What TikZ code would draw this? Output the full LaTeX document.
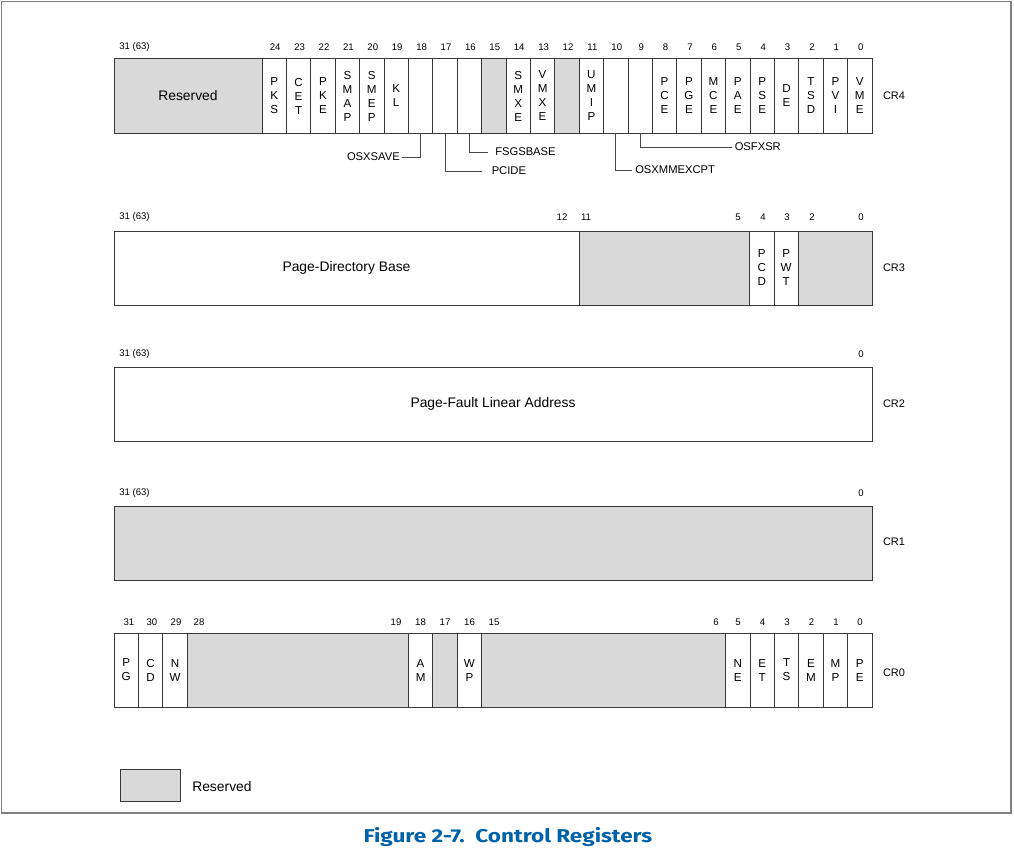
\documentclass[tikz,border=0pt]{standalone}
\usepackage{fontspec}
\setmainfont{Liberation Sans}
\newfontfamily\capfont{Fira Sans}
\definecolor{resgray}{RGB}{217,217,217}
\definecolor{framegray}{RGB}{128,128,128}
\definecolor{capblue}{RGB}{0,98,168}
\begin{document}
\begin{tikzpicture}[x=0.75pt,y=-0.75pt,
  cell/.style={draw=black!78, line width=0.75pt},
  rsv/.style={cell, fill=resgray},
  stack/.style={font=\fontsize{8.7}{10.5}\selectfont, align=center, inner sep=0pt},
  bitnum/.style={font=\fontsize{7.2}{8}\selectfont, inner sep=0pt},
  biglabel/.style={font=\fontsize{10.4}{12}\selectfont, inner sep=0pt},
  crlabel/.style={font=\fontsize{8.2}{10}\selectfont, inner sep=0pt},
  callout/.style={draw=black!72, line width=0.6pt},
  pinlabel/.style={font=\fontsize{8.4}{10}\selectfont, inner sep=0pt}
]
\useasboundingbox (0,0) rectangle (1014,850);
% frame
\draw[framegray, line width=1.1pt] (1.5,1.5) rectangle (1011,813);

% ===== CR4 =====
\draw[rsv] (114,58) rectangle (262,133);
\node[biglabel] (cr4res) at (188,96) {Reserved};
\node[bitnum, anchor=west] (cr4n31) at (119,47.5) {31 (63)};
\foreach \b/\txt/\fc in {24/{P\\K\\S}/white, 23/{C\\E\\T}/white, 22/{P\\K\\E}/white,
  21/{S\\M\\A\\P}/white, 20/{S\\M\\E\\P}/white, 19/{K\\L}/white, 18/{}/white,
  17/{}/white, 16/{}/white, 15/{}/resgray, 14/{S\\M\\X\\E}/white, 13/{V\\M\\X\\E}/white,
  12/{}/resgray, 11/{U\\M\\I\\P}/white, 10/{}/white, 9/{}/white, 8/{P\\C\\E}/white,
  7/{P\\G\\E}/white, 6/{M\\C\\E}/white, 5/{P\\A\\E}/white, 4/{P\\S\\E}/white,
  3/{D\\E}/white, 2/{T\\S\\D}/white, 1/{P\\V\\I}/white, 0/{V\\M\\E}/white}{
  \draw[cell, fill=\fc] ({872-24.4*(\b+1)},58) rectangle ({872-24.4*\b},133);
  \node[stack] (cr4b\b) at ({872-24.4*(\b+0.5)},96) {\txt};
  \node[bitnum] (cr4n\b) at ({872-24.4*(\b+0.5)+1},47.5) {\b};
}
\node[crlabel] (cr4) at (894,96) {CR4};

% callouts
\coordinate (p18) at ({872-24.4*18.5},133);
\coordinate (p17) at ({872-24.4*17.5},133);
\coordinate (p16) at ({872-24.4*16.5},133);
\coordinate (p10) at ({872-24.4*10.5},133);
\coordinate (p9)  at ({872-24.4*9.5},133);
\coordinate (e18) at (402,157);
\coordinate (e17) at (482,171);
\coordinate (e16) at (488,152);
\coordinate (e10) at (632,170);
\coordinate (e9)  at (732,147);
\node[pinlabel, anchor=east] (osxsave) at (400,157) {OSXSAVE};
\node[pinlabel, anchor=west] (pcide) at (491.5,171) {PCIDE};
\node[pinlabel, anchor=west] (fsgsbase) at (495,152) {FSGSBASE};
\node[pinlabel, anchor=west] (osxmm) at (635,170) {OSXMMEXCPT};
\node[pinlabel, anchor=west] (osfxsr) at (734.5,147) {OSFXSR};
\draw[callout] (p18) |- (e18);
\draw[callout] (p17) |- (e17);
\draw[callout] (p16) |- (e16);
\draw[callout] (p10) |- (e10);
\draw[callout] (p9) |- (e9);

% ===== CR3 =====
\draw[cell, fill=white] (114,231) rectangle (579,305);
\draw[rsv] (579,231) rectangle (749.6,305);
\draw[cell, fill=white] (749.6,231) rectangle (774,305);
\draw[cell, fill=white] (774,231) rectangle (798.4,305);
\draw[rsv] (798.4,231) rectangle (872,305);
\node[biglabel] (pdb) at (346.5,268) {Page-Directory Base};
\node[stack] (pcd) at (761.8,268) {P\\C\\D};
\node[stack] (pwt) at (786.2,268) {P\\W\\T};
\node[bitnum, anchor=west] (cr3n31) at (119,217) {31 (63)};
\node[bitnum] (cr3n12) at (562,217) {12};
\node[bitnum] (cr3n11) at (586,217) {11};
\node[bitnum] (cr3n5) at (738,217) {5};
\node[bitnum] (cr3n4) at (763,217) {4};
\node[bitnum] (cr3n3) at (787,217) {3};
\node[bitnum] (cr3n2) at (812,217) {2};
\node[bitnum] (cr3n0) at (861,217) {0};
\node[crlabel] (cr3) at (894,268) {CR3};

% ===== CR2 =====
\draw[cell, fill=white] (114,367) rectangle (872,441);
\node[biglabel] (pfla) at (493,404) {Page-Fault Linear Address};
\node[bitnum, anchor=west] (cr2n31) at (119,354) {31 (63)};
\node[bitnum] (cr2n0) at (861,354) {0};
\node[crlabel] (cr2) at (894,404) {CR2};

% ===== CR1 =====
\draw[rsv] (114,506) rectangle (872,580);
\node[bitnum, anchor=west] (cr1n31) at (119,493) {31 (63)};
\node[bitnum] (cr1n0) at (861,493) {0};
\node[crlabel] (cr1) at (894,542) {CR1};

% ===== CR0 =====
\foreach \b/\txt in {31/{P\\G}, 30/{C\\D}, 29/{N\\W}}{
  \draw[cell, fill=white] ({114+24.4*(31-\b)},633) rectangle ({114+24.4*(32-\b)},707);
  \node[stack] (cr0b\b) at ({114+24.4*(31.5-\b)},670) {\txt};
}
\draw[rsv] (187.2,633) rectangle (408.4,707);
\draw[rsv] (481.6,633) rectangle (725.6,707);
\foreach \b/\txt/\fc in {18/{A\\M}/white, 17/{}/resgray, 16/{W\\P}/white,
  5/{N\\E}/white, 4/{E\\T}/white, 3/{T\\S}/white, 2/{E\\M}/white, 1/{M\\P}/white, 0/{P\\E}/white}{
  \draw[cell, fill=\fc] ({872-24.4*(\b+1)},633) rectangle ({872-24.4*\b},707);
  \node[stack] (cr0b\b) at ({872-24.4*(\b+0.5)},670) {\txt};
}
\foreach \b/\xx in {31/129, 30/152, 29/176, 28/199, 19/396, 18/420.5, 17/445, 16/469.5,
  15/494, 6/716, 5/738, 4/762.5, 3/787, 2/811.5, 1/836, 0/860}{
  \node[bitnum] (cr0n\b) at (\xx,622) {\b};
}
\node[crlabel] (cr0) at (894,673) {CR0};

% ===== legend =====
\draw[rsv] (120.5,769.5) rectangle (180.5,801);
\node[biglabel, anchor=west] (legres) at (192,787) {Reserved};

% ===== caption =====
\node[inner sep=0pt, anchor=base, text=capblue] (caption) at (508,842)
  {\resizebox{216.5pt}{11.3pt}{\capfont\bfseries Figure 2-7.\ \ Control Registers}};
\end{tikzpicture}
\end{document}
